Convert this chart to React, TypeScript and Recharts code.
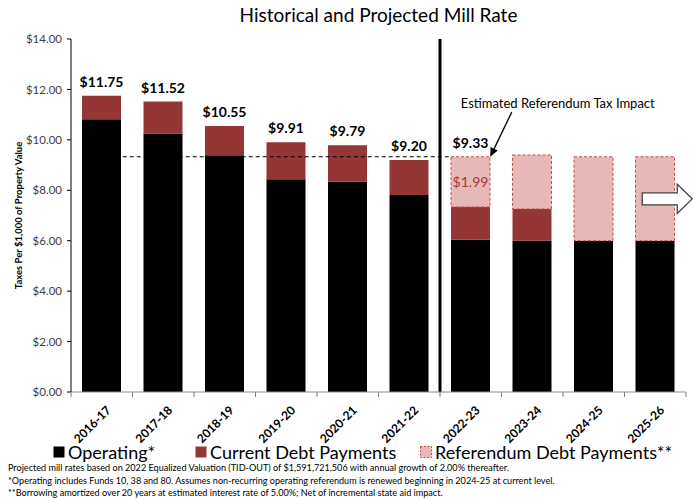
import React from "react";
import {
  BarChart,
  Bar,
  XAxis,
  YAxis,
  LabelList,
  ReferenceLine,
  ReferenceDot,
} from "recharts";

// school years on the x axis
const categories = [
  "2016-17",
  "2017-18",
  "2018-19",
  "2019-20",
  "2020-21",
  "2021-22",
  "2022-23",
  "2023-24",
  "2024-25",
  "2025-26",
];

// mill rate pieces ($ per $1,000 of property value)
const operating = [10.82, 10.25, 9.39, 8.44, 8.34, 7.81, 6.04, 6.0, 6.0, 6.0];
const currentDebt = [0.93, 1.27, 1.16, 1.47, 1.45, 1.39, 1.3, 1.26, 0, 0];
const referendumDebt = [0, 0, 0, 0, 0, 0, 1.99, 2.14, 3.33, 3.33];

// labels printed on the bars
const totalLabels = [11.75, 11.52, 10.55, 9.91, 9.79, 9.2, 9.33, null, null, null];
const referendumLabels = [null, null, null, null, null, null, 1.99, null, null, null];

const yTicks = [0, 2, 4, 6, 8, 10, 12, 14];
const projectedRate = 9.33;
const firstProjectedYear = "2022-23";

const footnotes = [
  "Projected mill rates based on 2022 Equalized Valuation (TID-OUT) of $1,591,721,506 with annual growth of 2.00% thereafter.",
  "*Operating includes Funds 10, 38 and 80. Assumes non-recurring operating referendum is renewed beginning in 2024-25 at current level.",
  "**Borrowing amortized over 20 years at estimated interest rate of 5.00%; Net of incremental state aid impact.",
];

const FONT = "Lato, 'Noto Sans', sans-serif";
const DEBT_RED = "#943634";
const REF_PINK = "#E6B9B8";
const REF_BORDER = "#C0504D";
const BAR = 39;

const data = categories.map((year, i) => ({
  year,
  operating: operating[i],
  debt: currentDebt[i],
  referendum: referendumDebt[i],
  // total goes on whichever segment is the top of the stack
  histTotal: referendumDebt[i] > 0 ? null : totalLabels[i],
  projTotal: referendumDebt[i] > 0 ? totalLabels[i] : null,
  refLabel: referendumLabels[i],
}));

const money = (v: any) => (v == null ? "" : `$${Number(v).toFixed(2)}`);

// rotated year label + tick marks on the band boundaries
const YearTick = (props: any) => {
  const { x, y, payload, index, width, visibleTicksCount } = props;
  const half = payload.offset || width / visibleTicksCount / 2;
  const axisY = y - 8;
  return (
    <g>
      <line x1={x - half} x2={x - half} y1={axisY} y2={axisY + 5} stroke="#7f7f7f" />
      {index === visibleTicksCount - 1 && (
        <line x1={x + half} x2={x + half} y1={axisY} y2={axisY + 5} stroke="#7f7f7f" />
      )}
      <g transform={`translate(${x + 4},${y + 5})`}>
        <text
          x={0}
          y={0}
          dy="0.7em"
          textAnchor="end"
          transform="rotate(-45)"
          fontSize={12}
          fontWeight="bold"
          fill="#000"
          fontFamily={FONT}
        >
          {payload.value}
        </text>
      </g>
    </g>
  );
};

// dashed line that stops at the left edge of the first projected bar
const RateLine = (props: any) => {
  const { x1, y1, x2, y2 } = props;
  return (
    <line
      x1={x1}
      y1={y1}
      x2={x2 - BAR / 2}
      y2={y2}
      stroke="#000"
      strokeWidth={1}
      strokeDasharray="4 3"
    />
  );
};

// arrow from the annotation text down to the 2022-23 referendum bar
const ImpactArrow = (props: any) => {
  const { x1, y1, x2, y2 } = props;
  const sx = x1 + 41;
  const ex = x2 + BAR / 2;
  const a = Math.atan2(y2 - y1, ex - sx);
  const len = 9;
  const w = 4;
  const bx = ex - len * Math.cos(a);
  const by = y2 - len * Math.sin(a);
  const px = -Math.sin(a) * w;
  const py = Math.cos(a) * w;
  return (
    <g>
      <line x1={sx} y1={y1} x2={bx} y2={by} stroke="#000" strokeWidth={1.3} />
      <polygon
        points={`${ex},${y2} ${bx + px},${by + py} ${bx - px},${by - py}`}
        fill="#000"
      />
      <text
        x={x1 + 87}
        y={y1 - 4}
        textAnchor="middle"
        fontSize={13}
        fill="#000"
        fontFamily={FONT}
      >
        Estimated Referendum Tax Impact
      </text>
    </g>
  );
};

const ForwardArrow = (props: any) => {
  const { cx, cy } = props;
  const c = cx + 12;
  const pts = [
    [c - 25, cy - 6],
    [c + 10, cy - 6],
    [c + 10, cy - 14.5],
    [c + 25, cy],
    [c + 10, cy + 14.5],
    [c + 10, cy + 6],
    [c - 25, cy + 6],
  ]
    .map((p) => p.join(","))
    .join(" ");
  return <polygon points={pts} fill="#fff" stroke="#404040" strokeWidth={1.3} />;
};

const legendItems = [
  { name: "Operating*", fill: "#000", stroke: "none", dash: undefined, left: 53 },
  { name: "Current Debt Payments", fill: DEBT_RED, stroke: "none", dash: undefined, left: 195 },
  {
    name: "Referendum Debt Payments**",
    fill: REF_PINK,
    stroke: REF_BORDER,
    dash: "2 1.5",
    left: 420,
  },
];

export default function App() {
  return (
    <div
      style={{
        position: "absolute",
        left: 0,
        top: 0,
        width: 694,
        height: 499,
        background: "#fff",
        fontFamily: FONT,
      }}
    >
      <div
        style={{
          position: "absolute",
          top: 3,
          left: 71,
          width: 615,
          textAlign: "center",
          fontSize: 19,
          color: "#000",
        }}
      >
        Historical and Projected Mill Rate
      </div>
      <BarChart
        width={694}
        height={499}
        data={data}
        margin={{ top: 39, right: 8, left: 0, bottom: 57 }}
      >
        <XAxis
          dataKey="year"
          height={50}
          tickLine={false}
          tickSize={6}
          tickMargin={2}
          axisLine={{ stroke: "#8c8c8c" }}
          tick={<YearTick />}
          interval={0}
        />
        <YAxis
          width={71}
          domain={[0, 14]}
          ticks={yTicks}
          tickFormatter={money}
          tickSize={4}
          tickMargin={5}
          axisLine={{ stroke: "#000" }}
          tickLine={{ stroke: "#000" }}
          tick={{ fill: "#404040", fontSize: 11.5, fontFamily: FONT }}
          label={{
            value: "Taxes Per $1,000 of Property Value",
            angle: -90,
            position: "insideLeft",
            dx: 14,
            style: {
              textAnchor: "middle",
              fontSize: 9.5,
              fontWeight: "bold",
              fill: "#000",
              fontFamily: FONT,
            },
          }}
        />
        <Bar dataKey="operating" stackId="a" fill="#000" barSize={BAR} isAnimationActive={false} />
        <Bar dataKey="debt" stackId="a" fill={DEBT_RED} barSize={BAR} isAnimationActive={false}>
          <LabelList
            dataKey="histTotal"
            position="top"
            offset={9}
            formatter={money}
            style={{ fontSize: 14, fontWeight: "bold", fill: "#000", fontFamily: FONT }}
          />
        </Bar>
        <Bar
          dataKey="referendum"
          stackId="a"
          fill={REF_PINK}
          stroke={REF_BORDER}
          strokeDasharray="3 2"
          strokeWidth={1}
          barSize={BAR}
          isAnimationActive={false}
        >
          <LabelList
            dataKey="projTotal"
            position="top"
            offset={9}
            formatter={money}
            style={{ fontSize: 14, fontWeight: "bold", fill: "#000", fontFamily: FONT }}
          />
          <LabelList
            dataKey="refLabel"
            position="center"
            formatter={money}
            style={{ fontSize: 14, fill: "#A5393B", fontFamily: FONT }}
          />
        </Bar>
        <ReferenceLine
          segment={[
            { x: categories[0], y: projectedRate },
            { x: firstProjectedYear, y: projectedRate },
          ]}
          shape={<RateLine />}
        />
        <ReferenceLine
          x={firstProjectedYear}
          position="start"
          stroke="#000"
          strokeWidth={3}
        />
        <ReferenceLine
          segment={[
            { x: firstProjectedYear, y: 11.1 },
            { x: firstProjectedYear, y: projectedRate },
          ]}
          shape={<ImpactArrow />}
        />
        <ReferenceDot x={categories[categories.length - 1]} y={7.66} shape={<ForwardArrow />} />
      </BarChart>
      {legendItems.map((it) => (
        <div
          key={it.name}
          style={{
            position: "absolute",
            top: 441,
            left: it.left,
            display: "flex",
            alignItems: "center",
            fontSize: 18,
            lineHeight: "22px",
            color: "#000",
            whiteSpace: "nowrap",
          }}
        >
          <svg width={12} height={12} style={{ marginRight: 3 }}>
            <rect
              x={0.5}
              y={0.5}
              width={11}
              height={11}
              fill={it.fill}
              stroke={it.stroke}
              strokeDasharray={it.dash}
            />
          </svg>
          <span>{it.name}</span>
        </div>
      ))}
      <div
        style={{
          position: "absolute",
          top: 462,
          left: 8,
          fontSize: 9.1,
          lineHeight: "12.5px",
          color: "#000",
          whiteSpace: "nowrap",
        }}
      >
        {footnotes.map((f) => (
          <div key={f}>{f}</div>
        ))}
      </div>
    </div>
  );
}
